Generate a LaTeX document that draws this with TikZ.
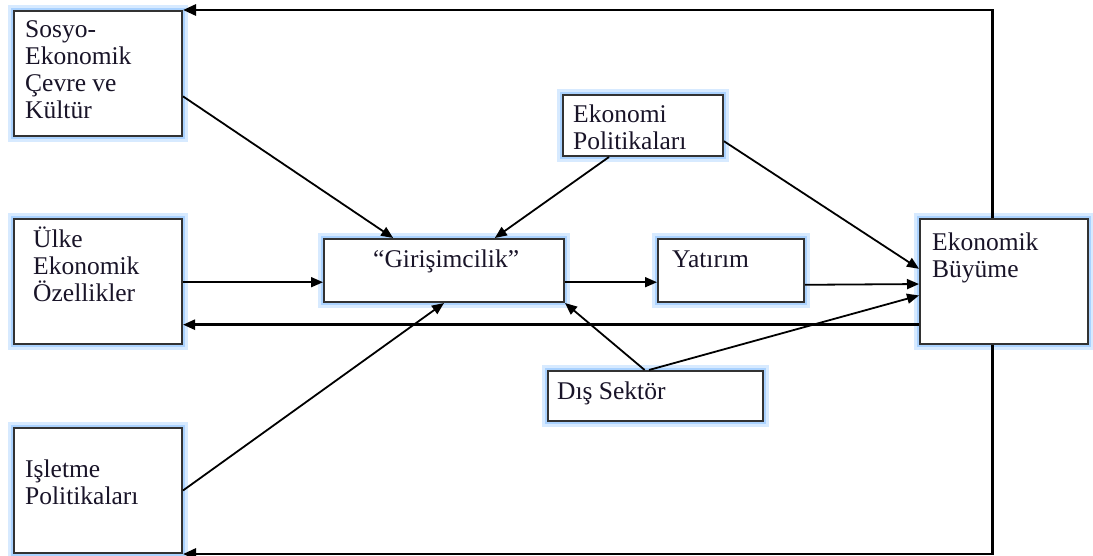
\documentclass[tikz,border=0pt]{standalone}
\usepackage{fontspec}
\setmainfont{Liberation Serif}
\usetikzlibrary{arrows.meta,calc}
\definecolor{glowA}{RGB}{215,234,255}
\definecolor{glowB}{RGB}{170,210,255}
\definecolor{edgec}{RGB}{50,50,50}
\definecolor{txtc}{RGB}{25,20,40}
\begin{document}
\begin{tikzpicture}[x=1pt,y=-1pt,
  box/.style={draw=edgec, line width=2pt, fill=white, inner sep=0pt, anchor=north west,
    preaction={draw=glowA, line width=12pt}, preaction={draw=glowB, line width=6pt}},
  lbl/.style={anchor=base west, inner sep=0pt, text=txtc, font=\fontsize{25.5}{27}\selectfont},
  arr/.style={-{Triangle[length=12pt,width=10pt]}, line width=1.8pt},
  loopline/.style={-{Triangle[length=13pt,width=11pt]}, line width=2.8pt}]
\useasboundingbox (0,0) rectangle (1093,556);
% boxes
\node[box, minimum width=168pt, minimum height=125pt] (sosyo) at (13,10) {};
\node[box, minimum width=168pt, minimum height=125pt] (ulke) at (13,218) {};
\node[box, minimum width=168pt, minimum height=125pt] (isl) at (13,427) {};
\node[box, minimum width=240pt, minimum height=63pt] (giri) at (323,238) {};
\node[box, minimum width=146pt, minimum height=63pt] (yat) at (657,238) {};
\node[box, minimum width=160pt, minimum height=61pt] (ekpol) at (562,94) {};
\node[box, minimum width=168pt, minimum height=125pt] (buy) at (919,218) {};
\node[box, minimum width=215pt, minimum height=50pt] (dis) at (547,370) {};
% labels
\node[lbl] (tsosyo) at (25,38) {\vtop{\hbox{Sosyo-}\hbox{Ekonomik}\hbox{Çevre ve}\hbox{Kültür}}};
\node[lbl] (tulke) at (33,248) {\vtop{\hbox{Ülke}\hbox{Ekonomik}\hbox{Özellikler}}};
\node[lbl] (tisl) at (25,477) {\vtop{\hbox{Işletme}\hbox{Politikaları}}};
\node[lbl] (tgiri) at (373,268) {“Girişimcilik”};
\node[lbl] (tyat) at (672,268) {Yatırım};
\node[lbl] (tekpol) at (573,123) {\vtop{\hbox{Ekonomi}\hbox{Politikaları}}};
\node[lbl] (tbuy) at (932,251) {\vtop{\hbox{Ekonomik}\hbox{Büyüme}}};
\node[lbl] (tdis) at (557,399) {Dış Sektör};
% coordinates
\coordinate (gin) at ($(giri.north west)!0.68!(giri.south west)$);
\coordinate (gout) at ($(giri.north east)!0.68!(giri.south east)$);
\coordinate (yout) at ($(yat.north east)!0.72!(yat.south east)$);
\coordinate (fb) at ($(buy.north west)!0.84!(buy.south west)$);
\coordinate (btop) at ($(buy.north west)!0.43!(buy.north east)$);
\coordinate (bbot) at ($(buy.south west)!0.43!(buy.south east)$);
\coordinate (dtop1) at ($(dis.north west)!0.45!(dis.north east)$);
\coordinate (dtop2) at ($(dis.north west)!0.47!(dis.north east)$);
% connectors
\draw[arr] ($(sosyo.north east)!0.68!(sosyo.south east)$) -- ($(giri.north west)!0.29!(giri.north east)$);
\draw[arr] ($(ekpol.south west)!0.29!(ekpol.south east)$) -- ($(giri.north west)!0.71!(giri.north east)$);
\draw[arr] (gin -| ulke.east) -- (gin);
\draw[arr] (isl.east) -- (giri.south);
\draw[arr] (gout) -- (gout -| yat.west);
\draw[arr] (yout) -- ($(buy.north west)!0.52!(buy.south west)$);
\draw[arr] (dtop1) -- (giri.south east);
\draw[arr] (dtop2) -- ($(buy.north west)!0.61!(buy.south west)$);
\draw[arr] ($(ekpol.north east)!0.75!(ekpol.south east)$) -- ($(buy.north west)!0.4!(buy.south west)$);
\draw[arr, line width=2.4pt] (fb) -- (fb -| ulke.east);
\draw[loopline] (btop) |- (sosyo.north east);
\draw[loopline] (bbot) |- (isl.south east);
\end{tikzpicture}
\end{document}
